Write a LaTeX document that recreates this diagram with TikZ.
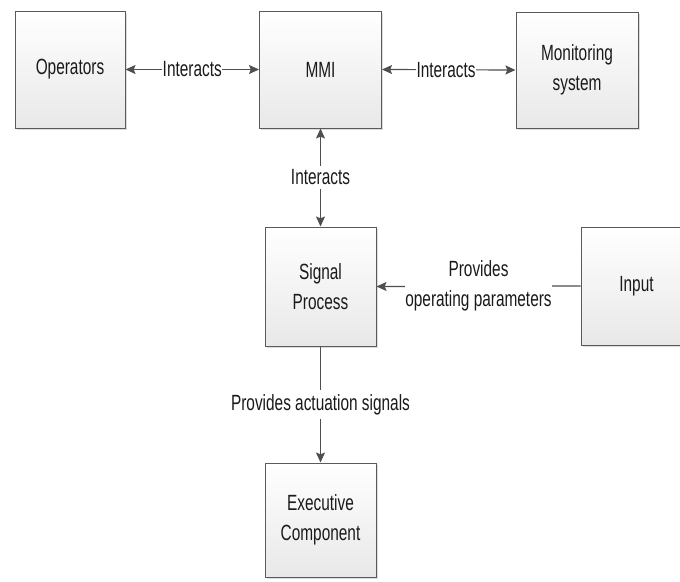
\documentclass[tikz,border=0pt]{standalone}
\usepackage{fontspec}
\setmainfont{Liberation Sans}[FakeStretch=0.7]
\usetikzlibrary{arrows.meta,shadows}
\definecolor{edgegray}{HTML}{4F4F4F}
\definecolor{boxline}{HTML}{5A5A5A}
\definecolor{inkgray}{HTML}{1A1A1A}
\tikzset{
  tip/.tip={Stealth[length=10pt,width=9pt,inset=1.8pt]},
  block/.style={draw=boxline, line width=1pt, top color=white, bottom color=black!9,
    drop shadow={shadow xshift=1.6pt, shadow yshift=-1.6pt, fill=black!22, opacity=0.6},
    align=center, text=inkgray, inner sep=0pt},
  link/.style={draw=edgegray, line width=1.2pt, arrows={-tip}},
  twoway/.style={link, arrows={tip-tip}},
  tag/.style={fill=white, text=inkgray, align=center, inner xsep=0.5pt, inner ysep=4pt}
}
\begin{document}
\begin{tikzpicture}[x=1pt, y=-1pt, font=\fontsize{22}{30}\selectfont]
\useasboundingbox (0,0) rectangle (680,581);
\begin{scope}
\clip (0,0) rectangle (680,581);
% top row
\node[block, minimum width=110pt, minimum height=117pt] (ops) at (70,69.5) {Operators};
\node[block, minimum width=122pt, minimum height=117pt] (mmi) at (320.5,69.5) {MMI};
\node[block, minimum width=122pt, minimum height=116pt] (mon) at (577,70) {Monitoring\\system};
% middle row
\node[block, minimum width=111pt, minimum height=119pt] (sig) at (320.5,286.5) {Signal\\Process};
\node[block, minimum width=111pt, minimum height=118pt] (inp) at (636.5,286) {Input};
% bottom
\node[block, minimum width=111pt, minimum height=114pt] (exe) at (320.5,520) {Executive\\Component};
\end{scope}
% connectors
\draw[twoway] (ops.east) -- node[tag] {Interacts} (mmi.west);
\draw[twoway] (mmi.east) -- node[tag, pos=0.48] {Interacts} (mon.west);
\draw[twoway] (sig.north) -- node[tag, pos=0.5] {Interacts} (mmi.south);
\draw[link] (inp.west) -- node[tag, pos=0.5, inner xsep=0pt] {Provides\\operating parameters} (sig.east);
\draw[link] (sig.south) -- node[tag, pos=0.5] {Provides actuation signals} (exe.north);
\end{tikzpicture}
\end{document}
